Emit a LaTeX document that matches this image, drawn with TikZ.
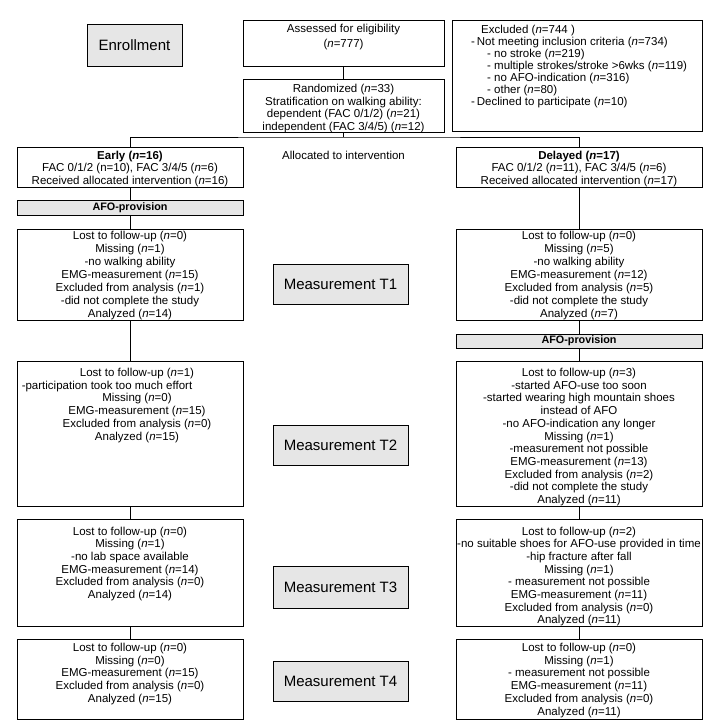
\documentclass[tikz,border=0pt]{standalone}
\usepackage{fontspec}
\setmainfont{Liberation Sans}
\newcommand{\nn}{\textit{n}}
\definecolor{boxgray}{HTML}{E6E6E6}
\begin{document}
\begin{tikzpicture}[x=1pt,y=-1pt,
  box/.style={draw, line width=0.8pt, inner sep=0pt},
  gbox/.style={box, fill=boxgray},
  txt/.style={align=center, inner sep=0pt, anchor=north, font=\fontsize{11.5}{12.7}\selectfont},
  ltxt/.style={align=left, inner sep=0pt, anchor=north west, font=\fontsize{11.5}{12}\selectfont},
  meas/.style={gbox, font=\fontsize{15}{18}\selectfont},
  afo/.style={gbox, font=\bfseries\fontsize{10.8}{12}\selectfont},
  conn/.style={line width=0.8pt}]
\useasboundingbox (0,0) rectangle (725,725);
% top
\node[meas, minimum width=95pt, minimum height=42pt] (enroll) at (134.5,45) {Enrollment};
\node[box, minimum width=201pt, minimum height=46pt] (assess) at (343.5,43) {};
\node[txt] (assesst) at (343.5,24) {Assessed for eligibility\\[2pt](\nn=777)};
\node[box, minimum width=201pt, minimum height=53pt] (rand) at (343.5,105.5) {};
\node[txt] (randt) at (343.5,84) {Randomized (\nn=33)\\Stratification on walking ability:\\dependent (FAC 0/1/2) (\nn=21)\\independent (FAC 3/4/5) (\nn=12)};
\node[box, minimum width=250pt, minimum height=111pt] (excl) at (577,75.5) {};
\node[ltxt] (exclt) at (471,25) {\hspace*{10pt}Excluded (\nn=744 )\\-\,Not meeting inclusion criteria (\nn=734)\\\hspace*{16pt}- no stroke (\nn=219)\\\hspace*{16pt}- multiple strokes/stroke >6wks (\nn=119)\\\hspace*{16pt}- no AFO-indication (\nn=316)\\\hspace*{16pt}- other (\nn=80)\\-\,Declined to participate (\nn=10)};
% allocation
\node[box, minimum width=226pt, minimum height=40pt] (early) at (130,167) {};
\node[txt, font=\fontsize{11.5}{12.3}\selectfont] (earlyt) at (130,151) {\textbf{Early (\textit{n}=16)}\\FAC 0/1/2 (n=10), FAC 3/4/5 (\nn=6)\\Received allocated intervention (\nn=16)};
\node[txt] (alloc) at (343.5,151) {Allocated to intervention};
\node[box, minimum width=246pt, minimum height=40pt] (delayed) at (579,167) {};
\node[txt, font=\fontsize{11.5}{12.3}\selectfont] (delayedt) at (579,151) {\textbf{Delayed (\textit{n}=17)}\\FAC 0/1/2 (\nn=11), FAC 3/4/5 (\nn=6)\\Received allocated intervention (\nn=17)};
\node[afo, minimum width=226pt, minimum height=15pt] (afoL) at (130,207.5) {AFO-provision};
% T1
\node[box, minimum width=226pt, minimum height=91pt] (t1L) at (130,274.5) {};
\node[txt, font=\fontsize{11.5}{13}\selectfont] (t1Lt) at (130,231) {Lost to follow-up (\nn=0)\\Missing (\nn=1)\\-no walking ability\\EMG-measurement (\nn=15)\\Excluded from analysis (\nn=1)\\-did not complete the study\\Analyzed (\nn=14)};
\node[meas, minimum width=135pt, minimum height=40pt] (m1) at (340.5,284) {Measurement T1};
\node[box, minimum width=246pt, minimum height=91pt] (t1R) at (579,274.5) {};
\node[txt, font=\fontsize{11.5}{13}\selectfont] (t1Rt) at (579,231) {Lost to follow-up (\nn=0)\\Missing (\nn=5)\\-no walking ability\\EMG-measurement (\nn=12)\\Excluded from analysis (\nn=5)\\-did not complete the study\\Analyzed (\nn=7)};
\node[afo, minimum width=246pt, minimum height=14pt] (afoR) at (579,341) {AFO-provision};
% T2
\node[box, minimum width=226pt, minimum height=145pt] (t2L) at (130,433.5) {};
\node[txt] (t2Lt) at (137,368) {Lost to follow-up (\nn=1)\\\hspace*{-60pt}-participation took too much effort\\Missing (\nn=0)\\EMG-measurement (\nn=15)\\Excluded from analysis (\nn=0)\\Analyzed (\nn=15)};
\node[meas, minimum width=135pt, minimum height=40pt] (m2) at (340.5,445) {Measurement T2};
\node[box, minimum width=246pt, minimum height=145pt] (t2R) at (579,433.5) {};
\node[txt] (t2Rt) at (579,368) {Lost to follow-up (\nn=3)\\-started AFO-use too soon\\-started wearing high mountain shoes\\instead of AFO\\-no AFO-indication any longer\\Missing (\nn=1)\\-measurement not possible\\EMG-measurement (\nn=13)\\Excluded from analysis (\nn=2)\\-did not complete the study\\Analyzed (\nn=11)};
% T3
\node[box, minimum width=226pt, minimum height=107pt] (t3L) at (130,572.5) {};
\node[txt] (t3Lt) at (130,526.5) {Lost to follow-up (\nn=0)\\Missing (\nn=1)\\-no lab space available\\EMG-measurement (\nn=14)\\Excluded from analysis (\nn=0)\\Analyzed (\nn=14)};
\node[meas, minimum width=135pt, minimum height=42pt] (m3) at (340.5,587) {Measurement T3};
\node[box, minimum width=246pt, minimum height=107pt] (t3R) at (579,572.5) {};
\node[txt] (t3Rt) at (579,526.5) {Lost to follow-up (\nn=2)\\-no suitable shoes for AFO-use provided in time\\-hip fracture after fall\\Missing (\nn=1)\\- measurement not possible\\EMG-measurement (\nn=11)\\Excluded from analysis (\nn=0)\\Analyzed (\nn=11)};
% T4
\node[box, minimum width=226pt, minimum height=80pt] (t4L) at (130,679) {};
\node[txt] (t4Lt) at (130,643) {Lost to follow-up (\nn=0)\\Missing (\nn=0)\\EMG-measurement (\nn=15)\\Excluded from analysis (\nn=0)\\Analyzed (\nn=15)};
\node[meas, minimum width=135pt, minimum height=40pt] (m4) at (340.5,681) {Measurement T4};
\node[box, minimum width=246pt, minimum height=80pt] (t4R) at (579,679) {};
\node[txt] (t4Rt) at (579,643) {Lost to follow-up (\nn=0)\\Missing (\nn=1)\\- measurement not possible\\EMG-measurement (\nn=11)\\Excluded from analysis (\nn=0)\\Analyzed (\nn=11)};
% connectors
\coordinate (split) at (343.5,137);
\draw[conn] (assess.south) -- (rand.north);
\draw[conn] (rand.south) -- (split);
\draw[conn] (early.north) |- (split) -| (delayed.north);
\draw[conn] (early.south) -- (afoL.north);
\draw[conn] (afoL.south) -- (t1L.north);
\draw[conn] (t1L.south) -- (t2L.north);
\draw[conn] (t2L.south) -- (t3L.north);
\draw[conn] (t3L.south) -- (t4L.north);
\draw[conn] (delayed.south) -- (t1R.north);
\draw[conn] (t1R.south) -- (afoR.north);
\draw[conn] (afoR.south) -- (t2R.north);
\draw[conn] (t2R.south) -- (t3R.north);
\draw[conn] (t3R.south) -- (t4R.north);
\end{tikzpicture}
\end{document}
